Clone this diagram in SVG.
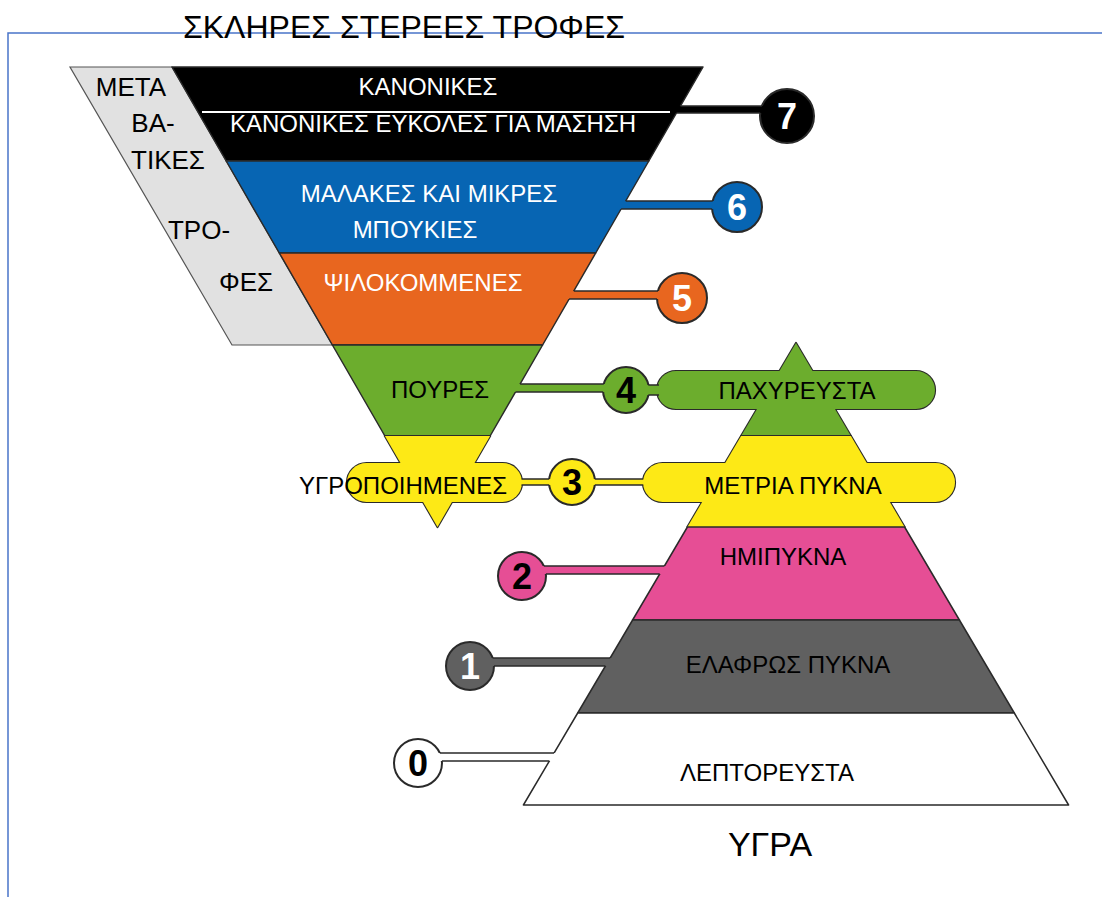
<svg xmlns="http://www.w3.org/2000/svg" width="1102" height="897" viewBox="0 0 1102 897">
<style>
.t{font-family:"Liberation Sans",Arial,sans-serif;font-size:24px;text-anchor:middle}
.g{font-size:26px}
.w{fill:#fff}
.k{fill:#000}
.num{font-family:"Liberation Sans",Arial,sans-serif;font-weight:bold;font-size:36px;text-anchor:middle}
.band{stroke:#2a2a2a;stroke-width:1.5;stroke-linejoin:round}
.u{stroke:#2a2a2a;stroke-width:2.2;stroke-linejoin:round}
.circ{stroke:#2a2a2a;stroke-width:2}
.ln{stroke:#2a2a2a;stroke-width:1.5;fill:none}
</style>
<rect width="1102" height="897" fill="#fff"/>
<g id="frame">
<path d="M8,897 V33 H1102" fill="none" stroke="#4a74c9" stroke-width="1.5"/>
<text x="404" y="38" font-family="Liberation Sans,Arial,sans-serif" font-size="32" text-anchor="middle" textLength="442" lengthAdjust="spacingAndGlyphs" fill="#000">ΣΚΛΗΡΕΣ ΣΤΕΡΕΕΣ ΤΡΟΦΕΣ</text>
</g>
<g id="transitional">
<polygon points="70,67 172,67 332.4,345 232,345" fill="#e1e1e1" stroke="#555" stroke-width="1.2"/>
<text class="t g k" x="131" y="96">ΜΕΤΑ</text>
<text class="t g k" x="153" y="132">ΒΑ-</text>
<text class="t g k" x="168" y="169">ΤΙΚΕΣ</text>
<text class="t g k" x="199" y="239">ΤΡΟ-</text>
<text class="t g k" x="246" y="291">ΦΕΣ</text>
</g>
<g id="level7">
<polygon class="band" points="172,67 703,67 648.8,161 226.2,161" fill="#000"/>
<text class="t w" x="428" y="95">ΚΑΝΟΝΙΚΕΣ</text>
<text class="t w" x="433" y="132">ΚΑΝΟΝΙΚΕΣ ΕΥΚΟΛΕΣ ΓΙΑ ΜΑΣΗΣΗ</text>
<line x1="202" y1="112" x2="670" y2="112" stroke="#fff" stroke-width="2"/>
<circle class="circ" cx="787" cy="116" r="27" fill="#000"/>
<text class="num w" x="787" y="129">7</text>
</g>
<g id="level6">
<polygon class="band" points="226.2,161 648.8,161 595.7,253 279.3,253" fill="#0765b3"/>
<text class="t w" x="429" y="202">ΜΑΛΑΚΕΣ ΚΑΙ ΜΙΚΡΕΣ</text>
<text class="t w" x="415" y="238">ΜΠΟΥΚΙΕΣ</text>
<circle class="circ" cx="737" cy="207" r="25" fill="#0765b3"/>
<text class="num w" x="737" y="220">6</text>
</g>
<g id="level5">
<polygon class="band" points="279.3,253 595.7,253 542.6,345 332.4,345" fill="#e8661f"/>
<text class="t w" x="423" y="291">ΨΙΛΟΚΟΜΜΕΝΕΣ</text>
<circle class="circ" cx="682" cy="298" r="25" fill="#e8661f"/>
<text class="num w" x="682" y="311">5</text>
</g>
<g id="level4">
<polygon class="band" points="332.4,345 542.6,345 490.1,436 384.9,436" fill="#6cad2d"/>
<text class="t k" x="440" y="398">ΠΟΥΡΕΣ</text>
<circle class="circ" cx="626" cy="390" r="23" fill="#6cad2d"/>
<text class="num k" x="626" y="403">4</text>
<polygon class="u" points="796,343 850.9,436 741.1,436" fill="#6cad2d"/>
<rect class="u" x="657" y="371" width="278" height="38" rx="19" fill="#6cad2d"/>
<polygon points="796,343 850.9,436 741.1,436" fill="#6cad2d"/>
<rect x="657" y="371" width="278" height="38" rx="19" fill="#6cad2d"/>
<text class="t k" x="797" y="399">ΠΑΧΥΡΕΥΣΤΑ</text>
</g>
<g id="level3">
<polygon class="u" points="384.9,436 490.1,436 437.5,527" fill="#fde916"/>
<rect class="u" x="347" y="463" width="175" height="39" rx="19.5" fill="#fde916"/>
<polygon points="384.9,436 490.1,436 437.5,527" fill="#fde916"/>
<rect x="347" y="463" width="175" height="39" rx="19.5" fill="#fde916"/>
<text class="t k" x="403" y="494">ΥΓΡΟΠΟΙΗΜΕΝΕΣ</text>
<circle class="circ" cx="572" cy="482" r="23" fill="#fde916"/>
<text class="num k" x="572" y="495">3</text>
<polygon class="u" points="741.1,436 850.9,436 904.6,527 687.4,527" fill="#fde916"/>
<rect class="u" x="643" y="463" width="312" height="39" rx="19.5" fill="#fde916"/>
<polygon points="741.1,436 850.9,436 904.6,527 687.4,527" fill="#fde916"/>
<rect x="643" y="463" width="312" height="39" rx="19.5" fill="#fde916"/>
<text class="t k" x="793" y="494">ΜΕΤΡΙΑ ΠΥΚΝΑ</text>
</g>
<g id="level2">
<polygon class="band" points="687.4,527 904.6,527 959.4,620 632.6,620" fill="#e64e95"/>
<text class="t k" x="783" y="565">ΗΜΙΠΥΚΝΑ</text>
<circle class="circ" cx="522" cy="576" r="24" fill="#e64e95"/>
<text class="num k" x="522" y="589">2</text>
</g>
<g id="level1">
<polygon class="band" points="632.6,620 959.4,620 1014.3,713 577.7,713" fill="#606060"/>
<text class="t k" x="788" y="673">ΕΛΑΦΡΩΣ ΠΥΚΝΑ</text>
<circle class="circ" cx="470" cy="666" r="24" fill="#606060"/>
<text class="num w" x="470" y="679">1</text>
</g>
<g id="level0">
<polygon class="band" points="577.7,713 1014.3,713 1068.6,805 523.4,805" fill="#fff"/>
<text class="t k" x="767" y="781">ΛΕΠΤΟΡΕΥΣΤΑ</text>
<circle class="circ" cx="418" cy="763" r="24" fill="#fff"/>
<text class="num k" x="418" y="776">0</text>
</g>
<g id="label-liquids">
<text x="770" y="856" font-family="Liberation Sans,Arial,sans-serif" font-size="34" text-anchor="middle" fill="#000">ΥΓΡΑ</text>
</g>
<g id="connectors">
<rect x="673" y="106" width="92" height="7" fill="#000"/>
<path class="ln" d="M680.5,106 H762 M676.5,113 H760.2"/>
<rect x="618" y="201" width="97" height="8" fill="#0765b3"/>
<path class="ln" d="M625.7,201 H712.7 M621.1,209 H712.1"/>
<rect x="566" y="291" width="94" height="8" fill="#e8661f"/>
<path class="ln" d="M573.8,291 H658 M569.1,299 H657"/>
<rect x="512" y="384" width="94" height="8" fill="#6cad2d"/>
<path class="ln" d="M520.1,384 H603.8 M515.5,392 H603.1"/>
<rect x="646" y="385" width="14" height="10" fill="#6cad2d"/>
<path class="ln" d="M648.3,385 H659 M648.3,395 H659"/>
<rect x="518" y="479" width="33" height="6" fill="#fde916"/>
<path class="ln" d="M521.5,479 H549.2 M521.5,485 H549.2"/>
<rect x="593" y="479" width="53" height="6" fill="#fde916"/>
<path class="ln" d="M594.8,479 H643.3 M594.8,485 H643.3"/>
<rect x="542" y="566" width="126" height="8" fill="#e64e95"/>
<path class="ln" d="M543.8,566 H664.4 M545.9,574 H659.7"/>
<rect x="491" y="658" width="123" height="8" fill="#606060"/>
<path class="ln" d="M492.6,658 H610.2 M494,666 H605.4"/>
<rect x="438" y="753" width="120" height="8" fill="#fff"/>
<path class="ln" d="M439.8,753 H554.1 M441.9,761 H549.4"/>
</g>
</svg>
